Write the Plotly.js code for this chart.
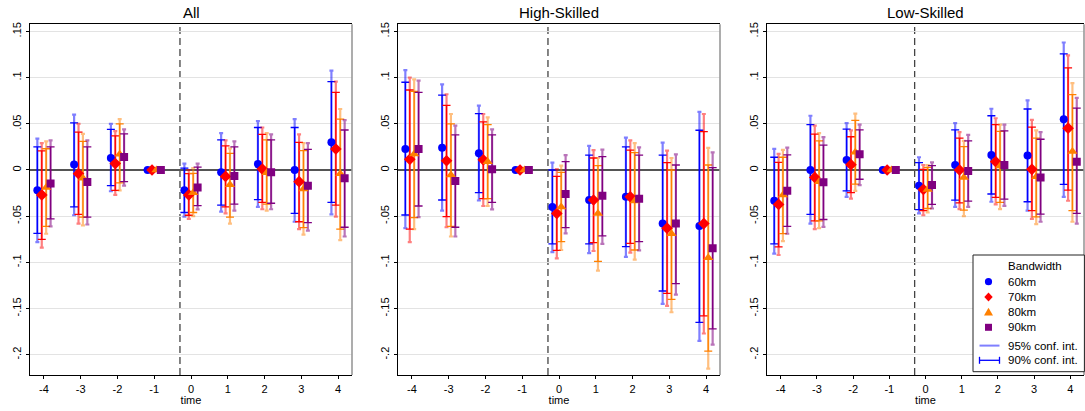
<!DOCTYPE html>
<html>
<head>
<meta charset="utf-8">
<script src="https://cdn.plot.ly/plotly-3.0.1.min.js"></script>
<style>html,body{margin:0;padding:0;background:#fff;}#chart{width:1085px;height:411px;}</style>
</head>
<body>
<div id="chart"></div>
<script>
// ---------- data ----------
const times = [-4, -3, -2, -1, 0, 1, 2, 3, 4];
const xTickText = ['-4', '-3', '-2', '-1', '0', '1', '2', '3', '4'];
const yTickVals = [-0.2, -0.15, -0.1, -0.05, 0, 0.05, 0.1, 0.15];
const yTickText = ['-.2', '-.15', '-.1', '-.05', '0', '.05', '.1', '.15'];
const panelTitles = ['All', 'High-Skilled', 'Low-Skilled'];
const bandwidths = ['60km', '70km', '80km', '90km'];
const ciLabels = ['95% conf. int.', '90% conf. int.'];
const legendTitle = 'Bandwidth';
const treatLine = -0.3;

// All
const all_60_est  = [-0.022, 0.006, 0.013, 0, -0.022, -0.0025, 0.0065, 0.0, 0.030];
const all_60_hi90 = [0.025, 0.051, 0.044, 0, 0.002, 0.0325, 0.046, 0.046, 0.0956];
const all_60_hi95 = [0.034, 0.060, 0.050, 0, 0.007, 0.040, 0.053, 0.055, 0.1075];
const all_60_lo90 = [-0.0686, -0.040, -0.017, 0, -0.046, -0.038, -0.032, -0.047, -0.035];
const all_60_lo95 = [-0.078, -0.049, -0.023, 0, -0.0505, -0.045, -0.040, -0.056, -0.048];

const all_70_est  = [-0.027, -0.004, 0.007, 0, -0.027, -0.007, 0.001, -0.0126, 0.0227];
const all_70_hi90 = [0.0206, 0.041, 0.037, 0, -0.004, 0.026, 0.0385, 0.030, 0.084];
const all_70_hi95 = [0.029, 0.050, 0.042, 0, 0.0, 0.032, 0.046, 0.0385, 0.0956];
const all_70_lo90 = [-0.075, -0.048, -0.022, 0, -0.049, -0.040, -0.035, -0.056, -0.038];
const all_70_lo95 = [-0.084, -0.058, -0.027, 0, -0.053, -0.047, -0.0425, -0.064, -0.0505];

const all_80_est  = [-0.019, -0.009, 0.017, 0, -0.0245, -0.016, -0.003, -0.0205, -0.004];
const all_80_hi90 = [0.023, 0.031, 0.050, 0, -0.0036, 0.018, 0.0325, 0.021, 0.055];
const all_80_hi95 = [0.031, 0.039, 0.055, 0, 0.002, 0.0235, 0.040, 0.029, 0.066];
const all_80_lo90 = [-0.061, -0.051, -0.014, 0, -0.046, -0.051, -0.037, -0.0624, -0.064];
const all_80_lo95 = [-0.069, -0.060, -0.022, 0, -0.050, -0.058, -0.044, -0.070, -0.076];

const all_90_est  = [-0.0145, -0.013, 0.014, 0, -0.019, -0.0065, -0.0025, -0.017, -0.009];
const all_90_hi90 = [0.025, 0.025, 0.039, 0, 0.003, 0.025, 0.0325, 0.0224, 0.0433];
const all_90_hi95 = [0.032, 0.032, 0.044, 0, 0.007, 0.031, 0.0385, 0.029, 0.054];
const all_90_lo90 = [-0.053, -0.051, -0.0126, 0, -0.0386, -0.037, -0.036, -0.057, -0.062];
const all_90_lo95 = [-0.061, -0.059, -0.017, 0, -0.0426, -0.044, -0.0425, -0.0657, -0.072];

// High-Skilled
const high_60_est  = [0.0227, 0.024, 0.018, 0, -0.040, -0.0325, -0.029, -0.058, -0.0606];
const high_60_hi90 = [0.095, 0.081, 0.061, 0, 0.0, 0.016, 0.025, 0.016, 0.043];
const high_60_hi95 = [0.108, 0.0927, 0.0696, 0, 0.008, 0.026, 0.035, 0.0296, 0.063];
const high_60_lo90 = [-0.0487, -0.0325, -0.0245, 0, -0.080, -0.080, -0.083, -0.131, -0.165];
const high_60_lo95 = [-0.063, -0.044, -0.033, 0, -0.089, -0.090, -0.094, -0.145, -0.185];

const high_70_est  = [0.0115, 0.010, 0.011, 0, -0.047, -0.0325, -0.029, -0.063, -0.058];
const high_70_hi90 = [0.0866, 0.070, 0.052, 0, -0.007, 0.013, 0.0216, 0.008, 0.0415];
const high_70_hi95 = [0.100, 0.082, 0.0606, 0, 0.001, 0.0216, 0.032, 0.021, 0.0606];
const high_70_lo90 = [-0.064, -0.0505, -0.031, 0, -0.087, -0.0786, -0.0794, -0.1335, -0.158];
const high_70_lo95 = [-0.078, -0.062, -0.039, 0, -0.0956, -0.0877, -0.0895, -0.147, -0.177];

const high_80_est  = [0.0173, -0.0054, 0.009, 0, -0.040, -0.047, -0.0336, -0.069, -0.095];
const high_80_hi90 = [0.085, 0.050, 0.049, 0, -0.0025, 0.0047, 0.0188, 0.0, 0.0054];
const high_80_hi95 = [0.098, 0.0606, 0.057, 0, 0.0047, 0.013, 0.029, 0.013, 0.024];
const high_80_lo90 = [-0.0516, -0.061, -0.031, 0, -0.0776, -0.099, -0.0866, -0.140, -0.196];
const high_80_lo95 = [-0.064, -0.072, -0.039, 0, -0.0866, -0.109, -0.097, -0.154, -0.215];

const high_90_est  = [0.0227, -0.012, 0.0008, 0, -0.026, -0.028, -0.031, -0.058, -0.0848];
const high_90_hi90 = [0.084, 0.038, 0.038, 0, 0.009, 0.0144, 0.016, 0.0054, 0.0025];
const high_90_hi95 = [0.0967, 0.048, 0.044, 0, 0.016, 0.022, 0.0245, 0.017, 0.019];
const high_90_lo90 = [-0.039, -0.062, -0.035, 0, -0.0624, -0.0714, -0.0776, -0.123, -0.172];
const high_90_lo95 = [-0.051, -0.072, -0.0426, 0, -0.0686, -0.080, -0.087, -0.135, -0.189];

// Low-Skilled
const low_60_est  = [-0.0333, 0.0, 0.0109, 0, -0.017, 0.0054, 0.0163, 0.0156, 0.055];
const low_60_hi90 = [0.0138, 0.049, 0.0442, 0, 0.008, 0.0435, 0.0587, 0.066, 0.1257];
const low_60_hi95 = [0.0228, 0.0587, 0.0507, 0, 0.0138, 0.0507, 0.0663, 0.0754, 0.138];
const low_60_lo90 = [-0.080, -0.048, -0.0225, 0, -0.0428, -0.0326, -0.026, -0.0344, -0.0156];
const low_60_lo95 = [-0.0906, -0.058, -0.029, 0, -0.047, -0.040, -0.0344, -0.044, -0.029];

const low_70_est  = [-0.0373, -0.008, 0.0058, 0, -0.021, 0.0, 0.009, 0.0007, 0.0453];
const low_70_hi90 = [0.0083, 0.0388, 0.036, 0, 0.0007, 0.0344, 0.049, 0.0464, 0.1105];
const low_70_hi95 = [0.0174, 0.048, 0.0428, 0, 0.0054, 0.041, 0.056, 0.0543, 0.124];
const low_70_lo90 = [-0.0833, -0.055, -0.0246, 0, -0.044, -0.0355, -0.0297, -0.044, -0.0217];
const low_70_lo95 = [-0.092, -0.064, -0.031, 0, -0.049, -0.0424, -0.0373, -0.053, -0.0333];

const low_80_est  = [-0.027, -0.0127, 0.0192, 0, -0.021, -0.008, 0.0043, -0.0072, 0.020];
const low_80_hi90 = [0.0138, 0.0315, 0.0536, 0, 0.0029, 0.0254, 0.0417, 0.0344, 0.0815];
const low_80_hi95 = [0.0217, 0.040, 0.061, 0, 0.0054, 0.0315, 0.049, 0.0428, 0.094];
const low_80_lo90 = [-0.0688, -0.055, -0.0152, 0, -0.0417, -0.0435, -0.035, -0.0507, -0.044];
const low_80_lo95 = [-0.077, -0.063, -0.0225, 0, -0.046, -0.050, -0.0424, -0.0587, -0.056];

const low_90_est  = [-0.0225, -0.0134, 0.017, 0, -0.0163, -0.0011, 0.0054, -0.008, 0.009];
const low_90_hi90 = [0.0163, 0.027, 0.0435, 0, 0.0047, 0.0315, 0.0424, 0.0333, 0.067];
const low_90_hi95 = [0.0243, 0.0355, 0.049, 0, 0.0083, 0.038, 0.049, 0.041, 0.078];
const low_90_lo90 = [-0.061, -0.0536, -0.010, 0, -0.0373, -0.0337, -0.0315, -0.0478, -0.047];
const low_90_lo95 = [-0.069, -0.0616, -0.0163, 0, -0.0417, -0.040, -0.0388, -0.056, -0.058];

// ---------- styling ----------
const colors = ['#0000ff', '#ff0000', '#ff8000', '#800080'];
const fadeColors = ['rgba(0,0,255,0.5)', 'rgba(255,0,0,0.5)', 'rgba(255,128,0,0.5)', 'rgba(128,0,128,0.55)'];
const symbols = ['circle', 'diamond', 'triangle-up', 'square'];
const sizes = [8, 9, 9, 8];
const dodge = [-0.18, -0.06, 0.06, 0.18];
const FONT = 'Liberation Sans, Arial, Helvetica, sans-serif';

const panels = [
  [[all_60_est, all_60_lo95, all_60_hi95, all_60_lo90, all_60_hi90],
   [all_70_est, all_70_lo95, all_70_hi95, all_70_lo90, all_70_hi90],
   [all_80_est, all_80_lo95, all_80_hi95, all_80_lo90, all_80_hi90],
   [all_90_est, all_90_lo95, all_90_hi95, all_90_lo90, all_90_hi90]],
  [[high_60_est, high_60_lo95, high_60_hi95, high_60_lo90, high_60_hi90],
   [high_70_est, high_70_lo95, high_70_hi95, high_70_lo90, high_70_hi90],
   [high_80_est, high_80_lo95, high_80_hi95, high_80_lo90, high_80_hi90],
   [high_90_est, high_90_lo95, high_90_hi95, high_90_lo90, high_90_hi90]],
  [[low_60_est, low_60_lo95, low_60_hi95, low_60_lo90, low_60_hi90],
   [low_70_est, low_70_lo95, low_70_hi95, low_70_lo90, low_70_hi90],
   [low_80_est, low_80_lo95, low_80_hi95, low_80_lo90, low_80_hi90],
   [low_90_est, low_90_lo95, low_90_hi95, low_90_lo90, low_90_hi90]]
];

const W = 1085, H = 411;
const PX = v => v / W;
const PY = v => 1 - v / H;
const xDomainsPx = [[30, 352], [398, 720], [767, 1084]];
const yDomainPx = [24.3, 375];

const barTraces = [], markerTraces = [];
panels.forEach((series, p) => {
  const xa = p === 0 ? 'x' : 'x' + (p + 1);
  const ya = p === 0 ? 'y' : 'y' + (p + 1);
  series.forEach((s, k) => {
    const [est, lo95, hi95, lo90, hi90] = s;
    const xs = times.map(t => t + dodge[k]);
    barTraces.push({
      type: 'scatter', mode: 'markers', x: xs, y: est, xaxis: xa, yaxis: ya,
      marker: {size: 2, color: 'rgba(0,0,0,0)'}, showlegend: false, hoverinfo: 'skip',
      error_y: {type: 'data', symmetric: false,
        array: hi95.map((h, i) => h - est[i]), arrayminus: lo95.map((l, i) => est[i] - l),
        color: fadeColors[k], thickness: 2.2, width: 2}
    });
    barTraces.push({
      type: 'scatter', mode: 'markers', x: xs, y: est, xaxis: xa, yaxis: ya,
      marker: {size: 2, color: 'rgba(0,0,0,0)'}, showlegend: false, hoverinfo: 'skip',
      error_y: {type: 'data', symmetric: false,
        array: hi90.map((h, i) => h - est[i]), arrayminus: lo90.map((l, i) => est[i] - l),
        color: colors[k], thickness: 1.3, width: 4}
    });
    markerTraces.push({
      type: 'scatter', mode: 'markers', x: xs, y: est, xaxis: xa, yaxis: ya,
      name: bandwidths[k], showlegend: false, hoverinfo: 'skip',
      marker: {symbol: symbols[k], size: sizes[k], color: colors[k], line: {width: 0}}
    });
  });
});

const layout = {
  width: W, height: H,
  margin: {l: 0, r: 0, t: 0, b: 0},
  paper_bgcolor: '#fff', plot_bgcolor: '#fff',
  font: {family: FONT, size: 11, color: '#000'},
  showlegend: false,
  shapes: [], annotations: []
};

const yDom = [1 - yDomainPx[1] / H, 1 - yDomainPx[0] / H];
xDomainsPx.forEach((d, p) => {
  const sfx = p === 0 ? '' : String(p + 1);
  layout['xaxis' + sfx] = {
    domain: [d[0] / W, d[1] / W], anchor: 'y' + sfx, range: [-4.38, 4.38],
    tickvals: times, ticktext: xTickText, ticks: 'outside', ticklen: 3, tickcolor: '#000',
    showgrid: false, zeroline: false, showline: true, linecolor: '#000', linewidth: 1.3, mirror: true,
    tickfont: {family: FONT, size: 11, color: '#000'},
    title: {text: 'time', font: {family: FONT, size: 11, color: '#000'}, standoff: 1}
  };
  layout['yaxis' + sfx] = {
    domain: yDom, anchor: 'x' + sfx, range: [-0.2219, 0.1577],
    tickvals: yTickVals, ticktext: yTickText, tickangle: -90,
    ticks: 'outside', ticklen: 3, tickcolor: '#000',
    showgrid: true, gridcolor: '#e3e3e3', gridwidth: 1,
    zeroline: true, zerolinecolor: '#555', zerolinewidth: 1.3,
    showline: true, linecolor: '#000', linewidth: 1.3, mirror: false,
    tickfont: {family: FONT, size: 11, color: '#000'}
  };
  layout.shapes.push({type: 'line', xref: 'x' + sfx + ' domain', yref: 'y' + sfx + ' domain',
    x0: 1, x1: 1, y0: 0, y1: 1, line: {color: '#999', width: 1.6}, layer: 'above'});
  layout.shapes.push({type: 'line', xref: 'x' + sfx, yref: 'y' + sfx + ' domain',
    x0: treatLine, x1: treatLine, y0: 0, y1: 1, line: {color: '#444', width: 1.3, dash: '7px,4px'}, layer: 'below'});
  layout.annotations.push({text: panelTitles[p], xref: 'paper', yref: 'paper',
    x: (d[0] + d[1]) / 2 / W, y: PY(12.5), xanchor: 'center', yanchor: 'middle',
    showarrow: false, font: {family: FONT, size: 15, color: '#000'}});
});

// ---------- hand-built legend (Stata style) ----------
const L = {x0: 973, x1: 1084.4, y0: 255, y1: 371.7, keyX: 988.5, textX: 1006,
           titleY: 266, rowY: [281.7, 296.9, 312.1, 327.3, 345.6, 360.3]};
layout.shapes.push({type: 'rect', xref: 'paper', yref: 'paper', x0: PX(L.x0), x1: PX(L.x1),
  y0: PY(L.y1), y1: PY(L.y0), fillcolor: '#fff', line: {color: '#222', width: 1}, layer: 'above'});
layout.annotations.push({text: legendTitle, xref: 'paper', yref: 'paper', x: PX(L.textX), y: PY(L.titleY),
  xanchor: 'left', yanchor: 'middle', showarrow: false, font: {family: FONT, size: 11.5, color: '#000'}});
const glyph = (k, cx, cy) => {
  if (k === 0) return {type: 'circle', x0: PX(cx - 3.6), x1: PX(cx + 3.6), y0: PY(cy + 3.6), y1: PY(cy - 3.6)};
  if (k === 3) return {type: 'rect', x0: PX(cx - 3.5), x1: PX(cx + 3.5), y0: PY(cy + 3.5), y1: PY(cy - 3.5)};
  if (k === 1) return {type: 'path', path: `M ${PX(cx)} ${PY(cy - 4.5)} L ${PX(cx + 4.2)} ${PY(cy)} L ${PX(cx)} ${PY(cy + 4.5)} L ${PX(cx - 4.2)} ${PY(cy)} Z`};
  return {type: 'path', path: `M ${PX(cx)} ${PY(cy - 4.3)} L ${PX(cx + 4.5)} ${PY(cy + 3.5)} L ${PX(cx - 4.5)} ${PY(cy + 3.5)} Z`};
};
bandwidths.forEach((name, k) => {
  const g = glyph(k, L.keyX, L.rowY[k]);
  Object.assign(g, {xref: 'paper', yref: 'paper', fillcolor: colors[k], line: {width: 0}, layer: 'above'});
  layout.shapes.push(g);
  layout.annotations.push({text: name, xref: 'paper', yref: 'paper', x: PX(L.textX), y: PY(L.rowY[k]),
    xanchor: 'left', yanchor: 'middle', showarrow: false, font: {family: FONT, size: 11.5, color: '#000'}});
});
const lx0 = 979.5, lx1 = 999.5;
layout.shapes.push({type: 'line', xref: 'paper', yref: 'paper', x0: PX(lx0), x1: PX(lx1),
  y0: PY(L.rowY[4]), y1: PY(L.rowY[4]), line: {color: fadeColors[0], width: 2}, layer: 'above'});
layout.shapes.push({type: 'line', xref: 'paper', yref: 'paper', x0: PX(lx0), x1: PX(lx1),
  y0: PY(L.rowY[5]), y1: PY(L.rowY[5]), line: {color: colors[0], width: 1.3}, layer: 'above'});
[lx0, lx1].forEach(cx => layout.shapes.push({type: 'line', xref: 'paper', yref: 'paper', x0: PX(cx), x1: PX(cx),
  y0: PY(L.rowY[5] - 3.5), y1: PY(L.rowY[5] + 3.5), line: {color: colors[0], width: 1.3}, layer: 'above'}));
ciLabels.forEach((name, j) => layout.annotations.push({text: name, xref: 'paper', yref: 'paper',
  x: PX(L.textX), y: PY(L.rowY[4 + j]), xanchor: 'left', yanchor: 'middle', showarrow: false,
  font: {family: FONT, size: 11.5, color: '#000'}}));

Plotly.newPlot('chart', barTraces.concat(markerTraces), layout, {staticPlot: true, displayModeBar: false});
</script>
</body>
</html>
